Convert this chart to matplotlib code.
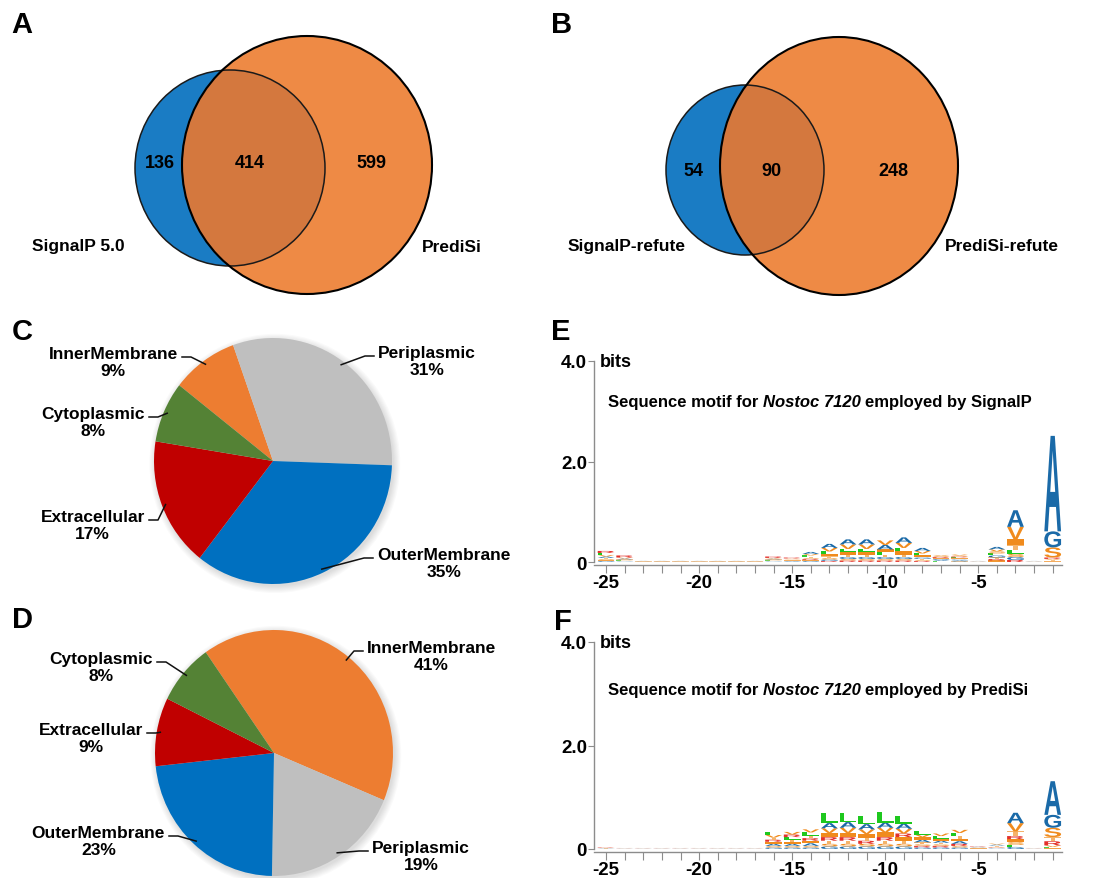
import matplotlib
matplotlib.use('Agg')
import matplotlib.pyplot as plt
import matplotlib.transforms as mtransforms
from matplotlib.patches import Ellipse, PathPatch
from matplotlib.textpath import TextPath
from matplotlib.font_manager import FontProperties
import numpy as np

plt.rcParams['font.family'] = 'Liberation Sans'
plt.rcParams['font.weight'] = 'bold'

#venn counts: left only, shared, right only
venn_a_names = ['SignalP 5.0', 'PrediSi']
venn_a_counts = [136, 414, 599]
venn_b_names = ['SignalP-refute', 'PrediSi-refute']
venn_b_counts = [54, 90, 248]

#subcellular localisation shares (%)
loc_names = ['InnerMembrane', 'Periplasmic', 'OuterMembrane', 'Extracellular', 'Cytoplasmic']
loc_colors = ['#ed7d31', '#bfbfbf', '#0070c0', '#c00000', '#548235']
signalp_pct = [9, 31, 35, 17, 8]
predisi_pct = [41, 19, 23, 9, 8]

#sequence logo heights (bits), positions -25 .. -1
positions = list(range(-25, 0))
e_L = [0.04, 0.01, 0.003, 0.003, 0.003, 0.003, 0.003, 0.003, 0.003, 0.01, 0.01, 0.03, 0.05, 0.06, 0.06, 0.05, 0.07, 0.04, 0.01, 0.02, 0.002, 0.04, 0.07, 0.002, 0.01]
e_A = [0.03, 0.02, 0.005, 0.005, 0.005, 0.005, 0.005, 0.005, 0.005, 0.015, 0.01, 0.04, 0.08, 0.10, 0.10, 0.09, 0.11, 0.06, 0.02, 0.02, 0.005, 0.05, 0.33, 0.005, 1.90]
e_V = [0.03, 0.02, 0.004, 0.004, 0.004, 0.004, 0.004, 0.004, 0.004, 0.015, 0.01, 0.03, 0.07, 0.09, 0.09, 0.09, 0.10, 0.05, 0.02, 0.02, 0.004, 0.04, 0.25, 0.004, 0.02]
e_I = [0.02, 0.01, 0.002, 0.002, 0.002, 0.002, 0.002, 0.002, 0.002, 0.01, 0.01, 0.02, 0.05, 0.06, 0.06, 0.06, 0.07, 0.04, 0.02, 0.02, 0.002, 0.03, 0.12, 0.002, 0.01]
e_G = [0.02, 0.01, 0.002, 0.002, 0.002, 0.002, 0.002, 0.002, 0.002, 0.01, 0.01, 0.02, 0.03, 0.04, 0.04, 0.04, 0.04, 0.03, 0.02, 0.02, 0.002, 0.04, 0.06, 0.002, 0.32]
e_S = [0.02, 0.01, 0.002, 0.002, 0.002, 0.002, 0.002, 0.002, 0.002, 0.01, 0.01, 0.02, 0.03, 0.03, 0.03, 0.03, 0.03, 0.02, 0.02, 0.02, 0.002, 0.04, 0.06, 0.002, 0.20]
e_T = [0.02, 0.01, 0.002, 0.002, 0.002, 0.002, 0.002, 0.002, 0.002, 0.01, 0.01, 0.02, 0.03, 0.04, 0.04, 0.04, 0.04, 0.02, 0.01, 0.01, 0.002, 0.03, 0.10, 0.002, 0.02]
e_R = [0.04, 0.04, 0.002, 0.002, 0.002, 0.002, 0.002, 0.002, 0.002, 0.03, 0.02, 0.02, 0.02, 0.03, 0.03, 0.03, 0.03, 0.02, 0.02, 0.02, 0.002, 0.03, 0.04, 0.002, 0.03]

f_L = [0.005, 0.003, 0.003, 0.003, 0.003, 0.003, 0.003, 0.003, 0.003, 0.06, 0.05, 0.06, 0.20, 0.18, 0.15, 0.20, 0.14, 0.07, 0.05, 0.06, 0.005, 0.01, 0.04, 0.003, 0.02]
f_A = [0.005, 0.003, 0.003, 0.003, 0.003, 0.003, 0.003, 0.003, 0.003, 0.04, 0.04, 0.05, 0.10, 0.11, 0.10, 0.10, 0.10, 0.05, 0.04, 0.05, 0.01, 0.02, 0.20, 0.003, 0.65]
f_V = [0.005, 0.003, 0.003, 0.003, 0.003, 0.003, 0.003, 0.003, 0.003, 0.05, 0.05, 0.06, 0.09, 0.10, 0.09, 0.09, 0.09, 0.05, 0.05, 0.06, 0.008, 0.02, 0.16, 0.003, 0.03]
f_I = [0.003, 0.002, 0.002, 0.002, 0.002, 0.002, 0.002, 0.002, 0.002, 0.04, 0.04, 0.05, 0.08, 0.08, 0.07, 0.09, 0.07, 0.05, 0.04, 0.05, 0.005, 0.015, 0.06, 0.002, 0.02]
f_G = [0.003, 0.002, 0.002, 0.002, 0.002, 0.002, 0.002, 0.002, 0.002, 0.03, 0.03, 0.03, 0.05, 0.05, 0.05, 0.05, 0.05, 0.03, 0.03, 0.03, 0.005, 0.01, 0.04, 0.002, 0.25]
f_S = [0.003, 0.002, 0.002, 0.002, 0.002, 0.002, 0.002, 0.002, 0.002, 0.03, 0.03, 0.03, 0.05, 0.05, 0.05, 0.05, 0.05, 0.03, 0.03, 0.03, 0.005, 0.01, 0.05, 0.002, 0.18]
f_T = [0.003, 0.002, 0.002, 0.002, 0.002, 0.002, 0.002, 0.002, 0.002, 0.04, 0.04, 0.05, 0.06, 0.06, 0.06, 0.06, 0.06, 0.04, 0.03, 0.05, 0.005, 0.01, 0.09, 0.002, 0.08]
f_R = [0.01, 0.003, 0.003, 0.003, 0.003, 0.003, 0.003, 0.003, 0.003, 0.04, 0.05, 0.05, 0.07, 0.07, 0.06, 0.07, 0.07, 0.03, 0.03, 0.04, 0.01, 0.01, 0.06, 0.003, 0.08]

letter_colors = {'L': '#1ec81e', 'A': '#1a6aa8', 'G': '#1a6aa8', 'V': '#f08b1d',
                 'S': '#f08b1d', 'I': '#f08b1d', 'T': '#f5b36a', 'R': '#e3302a'}

W, H = 1108, 879
fig = plt.figure(figsize=(W / 100, H / 100), dpi=100)


def px_rect(x0, y0, x1, y1):
    # pixel box (top-left origin) -> figure fraction rect
    return [x0 / W, 1 - y1 / H, (x1 - x0) / W, (y1 - y0) / H]


#overlay in pixel units for venns, labels and leader lines
ov = fig.add_axes([0, 0, 1, 1], zorder=5)
ov.set_xlim(0, W)
ov.set_ylim(H, 0)
ov.axis('off')
ov.patch.set_visible(False)

blue, orange, both = '#1a7cc4', '#ee8a45', '#d4783e'


def venn(left, right, counts, names, count_x, count_y, name_xy):
    lc, lw_, lh = left
    rc, rw, rh = right
    ov.add_patch(Ellipse(lc, lw_, lh, fc=blue, ec='none'))
    rpatch = Ellipse(rc, rw, rh, fc=orange, ec='none')
    ov.add_patch(rpatch)
    shared = Ellipse(lc, lw_, lh, fc=both, ec='none')
    ov.add_patch(shared)
    shared.set_clip_path(rpatch)
    ov.add_patch(Ellipse(lc, lw_, lh, fill=False, ec='#1a1a1a', lw=1.1))
    ov.add_patch(Ellipse(rc, rw, rh, fill=False, ec='black', lw=1.5))
    for x, c in zip(count_x, counts):
        ov.text(x, count_y, str(c), ha='center', va='center', fontsize=13)
    for (x, y), n in zip(name_xy, names):
        ov.text(x, y, n, ha='center', va='center', fontsize=12.5)


venn(((230, 169), 190, 196), ((307, 166), 250, 258), venn_a_counts, venn_a_names,
     [160, 250, 371], 164, [(78, 247), (452, 248)])
venn(((745, 171), 158, 170), ((839, 167), 238, 258), venn_b_counts, venn_b_names,
     [693, 771, 893], 171, [(627, 247), (1002, 247)])


def pie_panel(center, rx, ry, pct, start, label_pos):
    cx, cy = center
    ax = fig.add_axes(px_rect(cx - rx, cy - ry, cx + rx, cy + ry))
    # soft drop shadow behind the pie
    for k in range(7):
        ax.add_patch(Ellipse((0.015, -0.02), 2 + 0.018 * k, 2 + 0.018 * k,
                             fc='black', ec='none', alpha=0.02, clip_on=False))
    wedges, _ = ax.pie(pct, colors=loc_colors, startangle=start, counterclock=False,
                       wedgeprops=dict(linewidth=0))
    ax.set_aspect('auto')
    ax.set_xlim(-1, 1)
    ax.set_ylim(-1, 1)
    ax.axis('off')
    to_ov = ax.transData + ov.transData.inverted()
    for w, name, val, (tx, ty, side) in zip(wedges, loc_names, pct, label_pos):
        mid = np.deg2rad((w.theta1 + w.theta2) / 2)
        ex, ey = to_ov.transform((0.97 * np.cos(mid), 0.97 * np.sin(mid)))
        hy = ty + 5
        if side == 'L':
            xs = [tx + 4, tx + 13, ex]
            ha = 'right'
        else:
            xs = [tx - 4, tx - 13, ex]
            ha = 'left'
        ov.plot(xs, [hy, hy, ey], color='#111111', lw=1.1)
        ov.text(tx, ty + 10, f'{name}\n{val}%', ha=ha, va='center',
                multialignment='center', fontsize=12.5, linespacing=1.2)


pie_panel((273, 462), 119, 123, signalp_pct, 142,
          [(178, 353, 'L'), (378, 352, 'R'), (377, 554, 'R'), (145, 516, 'L'), (145, 413, 'L')])
pie_panel((274, 754), 119, 123, predisi_pct, 125,
          [(367, 647, 'R'), (372, 847, 'R'), (165, 832, 'L'), (143, 729, 'L'), (153, 658, 'L')])

glyph_prop = FontProperties(family='Liberation Sans', weight='bold')


def draw_logo(ax, columns):
    for i, p in enumerate(positions):
        stack = sorted((col[i], ch) for ch, col in columns.items())
        y = 0.0
        for h, ch in stack:
            tp = TextPath((0, 0), ch, size=1, prop=glyph_prop)
            bb = tp.get_extents()
            t = (mtransforms.Affine2D().translate(-bb.x0, -bb.y0)
                 .scale(0.9 / bb.width, h / bb.height).translate(p - 0.45, y))
            ax.add_patch(PathPatch(t.transform_path(tp), fc=letter_colors[ch], ec='none',
                                   alpha=min(1.0, 0.6 + 10 * h)))
            y += h


def motif_title(x, y, source):
    # bold title with the organism name set in bold italic
    t1 = ov.text(x, y, 'Sequence motif for', ha='left', va='center', fontsize=12)
    t2 = ov.annotate('Nostoc 7120', xy=(1, 0), xycoords=t1, xytext=(3.3, 0),
                     textcoords='offset points', ha='left', va='bottom',
                     fontsize=12, style='italic')
    ov.annotate('employed by ' + source, xy=(1, 0), xycoords=t2, xytext=(3.3, 0),
                textcoords='offset points', ha='left', va='bottom', fontsize=12)


def logo_panel(y_top, y_zero, columns, source, title_y):
    ax = fig.add_axes(px_rect(594, y_top, 1062, y_zero))
    ax.patch.set_visible(False)
    draw_logo(ax, columns)
    ax.set_xlim(-25.65, -0.5)
    ax.set_ylim(0, 4)
    for s in ['top', 'right']:
        ax.spines[s].set_visible(False)
    for s in ['left', 'bottom']:
        ax.spines[s].set_color('#8c8c8c')
        ax.spines[s].set_linewidth(1.0)
    ax.spines['bottom'].set_position(('outward', 2))
    ax.set_xticks(positions)
    ax.set_xticklabels([str(p) if p % 5 == 0 else '' for p in positions])
    ax.set_yticks([0, 2, 4])
    ax.set_yticklabels(['0', '2.0', '4.0'])
    ax.tick_params(axis='x', length=6, color='#8c8c8c', labelsize=13.5, pad=1)
    ax.tick_params(axis='y', length=4, color='#8c8c8c', labelsize=13.5, pad=1)
    ov.text(600, y_top + 1, 'bits', ha='left', va='center', fontsize=13)
    motif_title(608, title_y, source)


logo_panel(362, 563, {'L': e_L, 'A': e_A, 'V': e_V, 'I': e_I, 'G': e_G, 'S': e_S, 'T': e_T, 'R': e_R},
           'SignalP', 403)
logo_panel(643, 850, {'L': f_L, 'A': f_A, 'V': f_V, 'I': f_I, 'G': f_G, 'S': f_S, 'T': f_T, 'R': f_R},
           'PrediSi', 691)

for letter, (x, y) in zip('ABCDEF', [(22, 25), (562, 25), (22, 332), (22, 620), (561, 332), (563, 622)]):
    ov.text(x, y, letter, ha='center', va='center', fontsize=21)

fig.savefig('out.png', dpi=100, facecolor='white')
